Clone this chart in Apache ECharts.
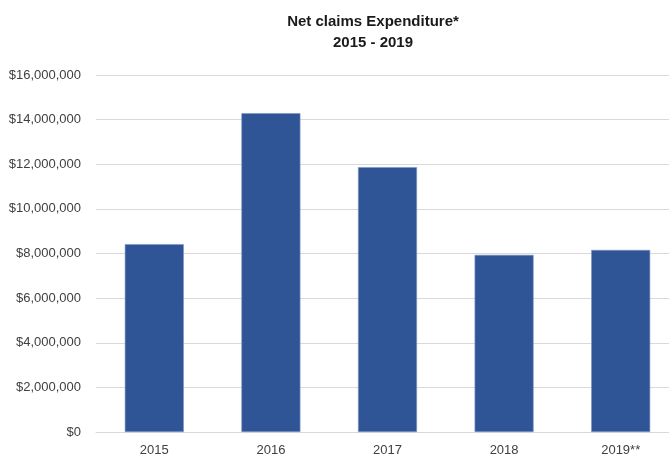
<!DOCTYPE html>
<html>
<head>
<meta charset="utf-8">
<script src="https://cdn.jsdelivr.net/npm/echarts@6/dist/echarts.min.js"></script>
<style>
  html, body { margin: 0; padding: 0; background: #ffffff; }
  #chart { width: 669px; height: 460px; }
</style>
</head>
<body>
<div id="chart"></div>
<script>
// Net claims expenditure by year
const years = ['2015', '2016', '2017', '2018', '2019**'];
const netClaims = [8420000, 14290000, 11870000, 7940000, 8160000];
const yTicks = { min: 0, max: 16000000, interval: 2000000 };

const FONT = '"Liberation Sans", Arial, sans-serif';

function money(v) {
  return '$' + Math.round(v).toString().replace(/\B(?=(\d{3})+(?!\d))/g, ',');
}

const chart = echarts.init(document.getElementById('chart'), null, { renderer: 'canvas' });
chart.setOption({
  animation: false,
  backgroundColor: '#ffffff',
  title: {
    text: 'Net claims Expenditure*\n2015 - 2019',
    left: 368,
    top: 6,
    textAlign: 'center',
    textStyle: {
      fontFamily: FONT,
      fontSize: 15,
      fontWeight: 'bold',
      color: '#1a1a1a',
      lineHeight: 21
    }
  },
  grid: { left: 96, right: -10, top: 75, bottom: 28, containLabel: false, outerBoundsMode: 'none' },
  xAxis: {
    type: 'category',
    data: years,
    axisLine: { show: true, lineStyle: { color: '#d9d9d9', width: 1 } },
    axisTick: { show: false },
    axisLabel: { color: '#404040', fontFamily: FONT, fontSize: 13, margin: 12 }
  },
  yAxis: {
    type: 'value',
    min: yTicks.min,
    max: yTicks.max,
    interval: yTicks.interval,
    axisLine: { show: false },
    axisTick: { show: false },
    splitLine: { lineStyle: { color: '#d9d9d9', width: 1 } },
    axisLabel: { color: '#404040', fontFamily: FONT, fontSize: 13, margin: 15, formatter: money }
  },
  series: [{
    type: 'bar',
    data: netClaims,
    barWidth: 59,
    itemStyle: { color: '#2F5597', borderColor: '#7d95c4', borderWidth: 0.6 }
  }]
});
</script>
</body>
</html>
